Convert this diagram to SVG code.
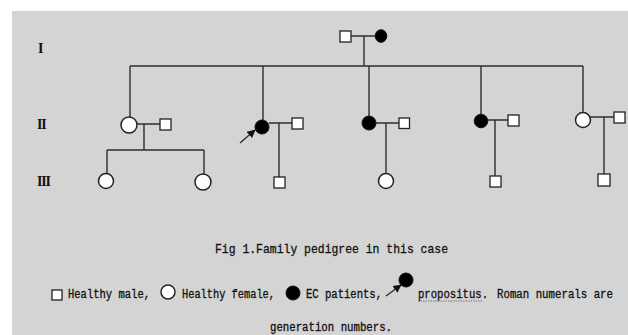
<svg xmlns="http://www.w3.org/2000/svg" width="628" height="335" viewBox="0 0 628 335">
<style>
.ln{stroke:#2e2e2e;stroke-width:1.4;fill:none}
.m{fill:#fff;stroke:#222;stroke-width:1.3}
.f{fill:#fff;stroke:#222;stroke-width:1.5}
.a{fill:#000;stroke:#111;stroke-width:1}
.gen{font-family:"Liberation Serif",serif;font-size:14px;font-weight:bold;fill:#111}
.t{font-family:"Liberation Mono",monospace;font-size:12px;fill:#111;stroke:#111;stroke-width:0.3}
.cap{font-family:"Liberation Mono",monospace;font-size:13px;fill:#111;stroke:#111;stroke-width:0.3}
</style>
<defs>
<marker id="ah" viewBox="0 0 10 10" refX="9" refY="5" markerWidth="6" markerHeight="6" orient="auto">
<path d="M0,0 L10,5 L0,10 z" fill="#111"/>
</marker>
</defs>
<rect x="0" y="0" width="628" height="335" fill="#fff"/>
<rect x="12" y="11" width="616" height="324" fill="#d4d4d4"/>

<g id="labels">
<text class="gen" x="38" y="53">I</text>
<text class="gen" x="37" y="129" letter-spacing="-1.2">II</text>
<text class="gen" x="37" y="186" letter-spacing="-1.2">III</text>
</g>

<g id="connectors">
<path class="ln" d="M351,36 H375 M364,36 V66 M130,66 H583"/>
<path class="ln" d="M130,66 V117 M263,66 V120 M369,66 V116 M481,66 V114 M583,66 V113"/>
<path class="ln" d="M137,124 H160 M144,124 V150 M107,150 H204 M107,150 V173 M204,150 V174"/>
<path class="ln" d="M269,123 H292 M279,123 V177"/>
<path class="ln" d="M376,123 H399 M386,123 V174"/>
<path class="ln" d="M488,120 H508 M495,120 V176"/>
<path class="ln" d="M590,117 H614 M604,117 V174"/>
<line class="ln" x1="240" y1="143" x2="255" y2="130" marker-end="url(#ah)"/>
</g>

<g id="I-1"><rect class="m" x="340" y="31" width="11" height="11"/></g>
<g id="I-2"><ellipse class="a" cx="381" cy="36" rx="5.8" ry="6.3"/></g>

<g id="II-1"><circle class="f" cx="129" cy="125" r="8"/></g>
<g id="II-1s"><rect class="m" x="160" y="119" width="11" height="11"/></g>
<g id="III-1"><circle class="f" cx="106" cy="181" r="7.5"/></g>
<g id="III-2"><circle class="f" cx="203" cy="182" r="8"/></g>

<g id="II-2"><circle class="a" cx="262" cy="127" r="7"/></g>
<g id="II-2s"><rect class="m" x="292" y="118" width="11" height="11"/></g>
<g id="III-3"><rect class="m" x="274" y="177" width="11" height="11"/></g>

<g id="II-3"><circle class="a" cx="369" cy="123" r="7"/></g>
<g id="II-3s"><rect class="m" x="399" y="118" width="10.5" height="10.5"/></g>
<g id="III-4"><circle class="f" cx="386" cy="181" r="7.5"/></g>

<g id="II-4"><circle class="a" cx="481" cy="121" r="6.8"/></g>
<g id="II-4s"><rect class="m" x="508" y="115" width="11" height="11"/></g>
<g id="III-5"><rect class="m" x="490" y="176" width="11" height="11"/></g>

<g id="II-5"><circle class="f" cx="583" cy="120" r="7.5"/></g>
<g id="II-5s"><rect class="m" x="614" y="112" width="11" height="11"/></g>
<g id="III-6"><rect class="m" x="598" y="174" width="12" height="12"/></g>

<g id="caption">
<text class="cap" x="215" y="253" textLength="233" lengthAdjust="spacingAndGlyphs">Fig 1.Family pedigree in this case</text>
</g>

<g id="legend">
<rect class="m" x="52" y="290" width="10" height="10"/>
<text class="t" x="68" y="298" textLength="82" lengthAdjust="spacingAndGlyphs">Healthy male,</text>
<circle class="f" cx="168" cy="292" r="7" stroke-width="1.8"/>
<text class="t" x="182" y="298" textLength="93" lengthAdjust="spacingAndGlyphs">Healthy female,</text>
<circle class="a" cx="293" cy="293" r="7"/>
<text class="t" x="306" y="298" textLength="76" lengthAdjust="spacingAndGlyphs">EC patients,</text>
<line class="ln" x1="386" y1="296" x2="401" y2="285" marker-end="url(#ah)"/>
<circle class="a" cx="406" cy="280" r="7"/>
<text class="t" x="418" y="298" textLength="70" lengthAdjust="spacingAndGlyphs">propositus.</text>
<line x1="418" y1="301" x2="483" y2="301" stroke="#777" stroke-width="1" stroke-dasharray="1.5,1"/>
<text class="t" x="497" y="298" textLength="116" lengthAdjust="spacingAndGlyphs">Roman numerals are</text>
<text class="t" x="270" y="331" textLength="122" lengthAdjust="spacingAndGlyphs">generation numbers.</text>
</g>
</svg>
